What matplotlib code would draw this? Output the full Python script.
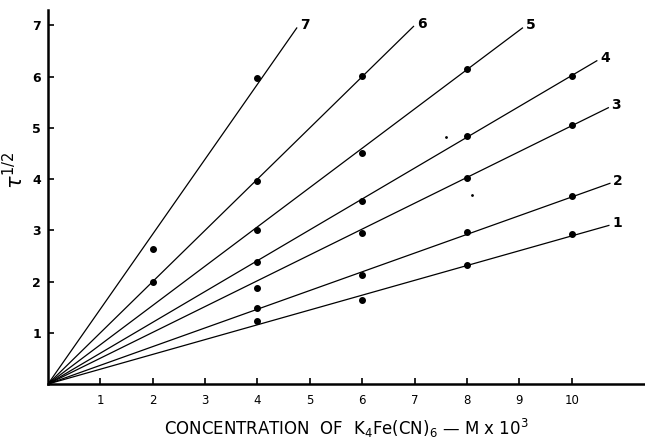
import matplotlib.pyplot as plt
import numpy as np

# curve numbers, slopes (tau^1/2 per unit conc.) and where each drawn line stops
curves = ["1", "2", "3", "4", "5", "6", "7"]
slopes = [0.289, 0.365, 0.504, 0.602, 0.767, 1.0, 1.463]
x_end = [10.71, 10.73, 10.7, 10.48, 9.06, 6.98, 4.75]

# measured points for each curve
pts_x = {
    "1": [4, 6, 8, 10],
    "2": [4, 6, 8, 10],
    "3": [4, 6, 8, 10],
    "4": [4, 6, 8, 10],
    "5": [4, 6, 8],
    "6": [2, 4, 6],
    "7": [2, 4],
}
pts_y = {
    "1": [1.23, 1.64, 2.32, 2.93],
    "2": [1.48, 2.13, 2.97, 3.67],
    "3": [1.87, 2.95, 4.02, 5.05],
    "4": [2.38, 3.58, 4.85, 6.01],
    "5": [3.0, 4.51, 6.14],
    "6": [1.99, 3.96, 6.02],
    "7": [2.64, 5.97],
}

# specks on the original print
speck_x = [8.1, 7.6]
speck_y = [3.69, 4.83]

xticks = [1, 2, 3, 4, 5, 6, 7, 8, 9, 10]
yticks = [1, 2, 3, 4, 5, 6, 7]

fig = plt.figure(figsize=(6.45, 4.41), dpi=100)
ax = fig.add_axes([48 / 645, 57 / 441, 597 / 645, 374 / 441])

for name, k, xe in zip(curves, slopes, x_end):
    xs = np.array([0, xe])
    ax.plot(xs, k * xs, color='black', lw=0.9)
    ax.plot(pts_x[name], pts_y[name], 'o', color='black', ms=4)
    ax.text(xe + 0.06, k * xe + 0.05, name, fontsize=10, fontweight='bold',
            ha='left', va='center')

ax.plot(speck_x, speck_y, '.', color='black', ms=2)

ax.set_xlim(0, 11.4)
ax.set_ylim(0, 7.3)
ax.set_xticks(xticks)
ax.set_yticks(yticks)
ax.set_xticklabels([str(v) for v in xticks], fontsize=8.5)
ax.set_yticklabels([str(v) for v in yticks], fontsize=9, fontweight='bold')
ax.tick_params(axis='both', direction='in', length=4, width=1.2, pad=5)
ax.tick_params(axis='x', pad=7)

for side in ['top', 'right']:
    ax.spines[side].set_visible(False)
for side in ['left', 'bottom']:
    ax.spines[side].set_linewidth(1.8)

ax.set_ylabel(r'$\tau^{1/2}$', fontsize=15, rotation=90)
ax.yaxis.set_label_coords(-0.035, (384 - 170) / 374)

ax.set_xlabel(r'CONCENTRATION  OF  K$_4$Fe(CN)$_6$ — M x 10$^3$', fontsize=12,
              labelpad=7)

fig.savefig('out.png', dpi=100)
